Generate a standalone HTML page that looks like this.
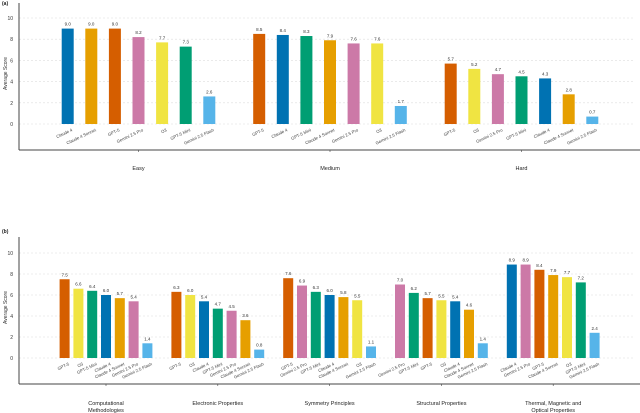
<!DOCTYPE html>
<html><head><meta charset="utf-8"><style>
body{margin:0;background:#fff}
svg{display:block;font-family:"Liberation Sans",sans-serif}
</style></head><body>
<svg id="c" width="640" height="413" viewBox="0 0 640 413"></svg>
<script>
const colors={"GPT-5":"#D55E00","Claude 4":"#0072B2","Claude 4 Sonnet":"#E69F00","Gemini 2.5 Pro":"#CC79A7","O3":"#F0E442","GPT-5 Mini":"#009E73","Gemini 2.5 Flash":"#56B4E9"};
const groupsA=["Easy","Medium","Hard"];
const modelsA=[
["Claude 4","Claude 4 Sonnet","GPT-5","Gemini 2.5 Pro","O3","GPT-5 Mini","Gemini 2.5 Flash"],
["GPT-5","Claude 4","GPT-5 Mini","Claude 4 Sonnet","Gemini 2.5 Pro","O3","Gemini 2.5 Flash"],
["GPT-5","O3","Gemini 2.5 Pro","GPT-5 Mini","Claude 4","Claude 4 Sonnet","Gemini 2.5 Flash"]];
const valuesA=[[9.0,9.0,9.0,8.2,7.7,7.3,2.6],[8.5,8.4,8.3,7.9,7.6,7.6,1.7],[5.7,5.2,4.7,4.5,4.3,2.8,0.7]];
const groupsB=[["Computational","Methodologies"],["Electronic Properties"],["Symmetry Principles"],["Structural Properties"],["Thermal, Magnetic and","Optical Properties"]];
const modelsB=[
["GPT-5","O3","GPT-5 Mini","Claude 4","Claude 4 Sonnet","Gemini 2.5 Pro","Gemini 2.5 Flash"],
["GPT-5","O3","Claude 4","GPT-5 Mini","Gemini 2.5 Pro","Claude 4 Sonnet","Gemini 2.5 Flash"],
["GPT-5","Gemini 2.5 Pro","GPT-5 Mini","Claude 4","Claude 4 Sonnet","O3","Gemini 2.5 Flash"],
["Gemini 2.5 Pro","GPT-5 Mini","GPT-5","O3","Claude 4","Claude 4 Sonnet","Gemini 2.5 Flash"],
["Claude 4","Gemini 2.5 Pro","GPT-5","Claude 4 Sonnet","O3","GPT-5 Mini","Gemini 2.5 Flash"]];
const valuesB=[[7.5,6.6,6.4,6.0,5.7,5.4,1.4],[6.3,6.0,5.4,4.7,4.5,3.6,0.8],[7.6,6.9,6.3,6.0,5.8,5.5,1.1],[7.0,6.2,5.7,5.5,5.4,4.6,1.4],[8.9,8.9,8.4,7.9,7.7,7.2,2.4]];
const yTicks=[0,2,4,6,8,10];
const svg=document.getElementById('c');
const NS='http://www.w3.org/2000/svg';
function el(t,a,p){const e=document.createElementNS(NS,t);for(const k in a)e.setAttribute(k,a[k]);(p||svg).appendChild(e);return e;}
function panel(cfg,groups,models,values){
  const g=el('g',{});
  
  
  const y=v=>cfg.y0-v*cfg.ppu;
  yTicks.forEach(t=>{
    el('line',{x1:cfg.x0,x2:635,y1:y(t),y2:y(t),stroke:'#ddd','stroke-width':0.6,'stroke-dasharray':'2,2'},g);
    const tx=el('text',{x:cfg.x0-6,y:y(t)+2,'font-size':5,'text-anchor':'end',fill:'#333'},g);tx.textContent=t;
    
    
  });
  el('line',{x1:cfg.x0,x2:cfg.x0,y1:cfg.top,y2:cfg.bot,stroke:'#444','stroke-width':1},g);
  el('line',{x1:cfg.x0,x2:640,y1:cfg.bot,y2:cfg.bot,stroke:'#444','stroke-width':1},g);
  const yt=el('text',{x:0,y:0,'font-size':5,'text-anchor':'middle',fill:'#333',transform:`translate(7,${(cfg.y0+cfg.top)/2+10}) rotate(-90)`},g);yt.textContent='Average Score';
  
  
  const pl=el('text',{x:2,y:cfg.labelY,'font-size':5,'font-weight':'bold',fill:'#222'},g);pl.textContent=cfg.label;
  
  
  groups.forEach((gn,gi)=>{
    const gc=cfg.gStart+gi*cfg.gStep;
    values[gi].forEach((v,bi)=>{
      const cx=gc+(bi-3)*cfg.bStep;
      const r=el('rect',{x:cx-cfg.bw/2,y:y(v),width:cfg.bw,height:v*cfg.ppu,fill:colors[models[gi][bi]]},g);
      
      
      const vt=el('text',{x:cx,y:y(v)-3,'font-size':4.5,'text-anchor':'middle',fill:'#333'},g);vt.textContent=v.toFixed(1);
      
      
      const lt=el('text',{x:0,y:0,'font-size':4.3,'text-anchor':'end',fill:'#444',transform:`translate(${cx+5},${cfg.y0+7}) rotate(-25)`},g);lt.textContent=models[gi][bi];
      
      
    });
    el('line',{x1:gc,x2:gc,y1:cfg.bot,y2:cfg.bot+2,stroke:'#444','stroke-width':0.6},g);
    gn.forEach((ln,li)=>{
      const t=el('text',{x:gc,y:cfg.glY+li*7,'font-size':5.5,'text-anchor':'middle',fill:'#222'},g);t.textContent=ln;
      
      
    });
  });
}
panel({name:'panel-a-difficulty',label:'(a)',labelY:5,x0:19,y0:124,ppu:10.6,top:3,bot:150,gStart:138.5,gStep:191.5,bStep:23.6,bw:12,glY:170},groupsA.map(s=>[s]),modelsA,valuesA);
panel({name:'panel-b-category',label:'(b)',labelY:233,x0:19,y0:358,ppu:10.5,top:237,bot:384,gStart:106,gStep:111.8,bStep:13.8,bw:10,glY:405},groupsB,modelsB,valuesB);
</script>
</body></html>
